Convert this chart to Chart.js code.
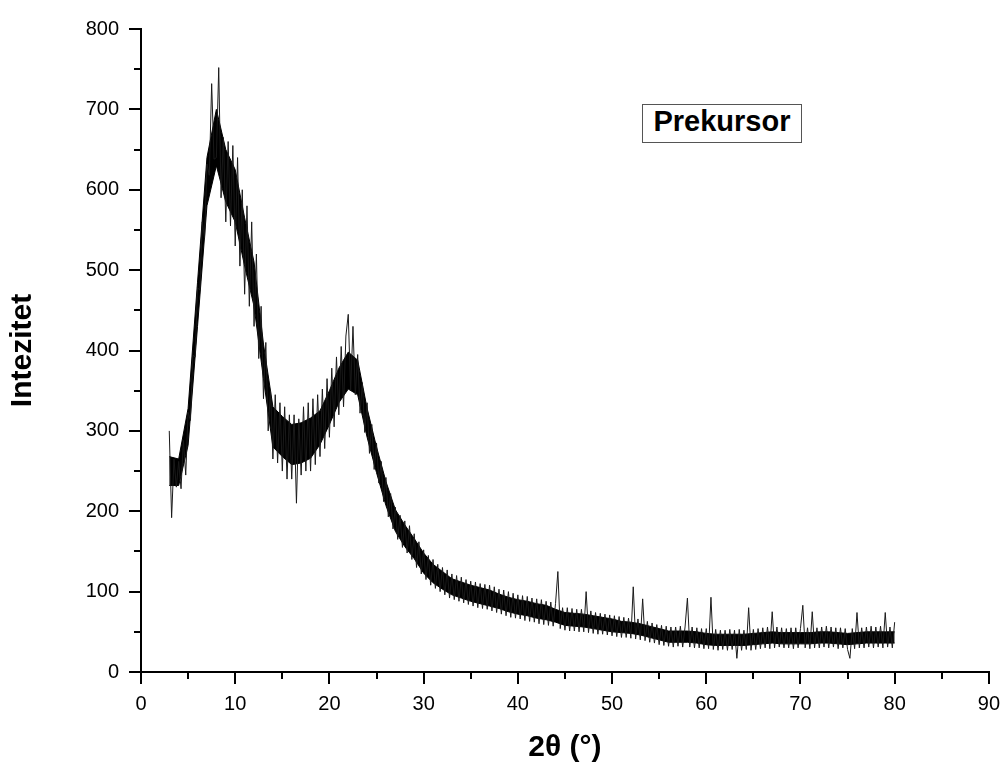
<!DOCTYPE html>
<html>
<head>
<meta charset="utf-8">
<title>Prekursor XRD</title>
<script src="https://cdn.jsdelivr.net/npm/chart.js@4/dist/chart.umd.min.js"></script>
<style>
  body { margin: 0; background: #fff; }
  #wrap { position: relative; width: 1008px; height: 776px; }
  #legend {
    position: absolute; left: 642px; top: 104px;
    width: 158px; height: 37px; line-height: 37px;
    border: 1px solid #555; background: #fff;
    font: bold 29px "Liberation Sans", Arial, sans-serif;
    text-align: center;
  }
</style>
</head>
<body>
<div id="wrap">
  <canvas id="xrd" width="1008" height="776"></canvas>
  <div id="legend">Prekursor</div>
</div>
<script>
// raw scan, sampled every 0.25 deg starting at 3 deg (one row = one degree)
const startAngle = 3;
const angleStep = 0.25;
const intensity = [
  300, 192, 265, 230,   // 3
  262, 228, 288, 245,   // 4
  323, 313, 394, 392,   // 5
  478, 475, 560, 540,   // 6
  632, 618, 732, 638,   // 7
  640, 752, 590, 665,   // 8
  560, 660, 555, 655,   // 9
  530, 640, 505, 600,   // 10
  470, 580, 455, 560,   // 11
  430, 520, 390, 455,   // 12
  340, 410, 300, 350,   // 13
  265, 345, 260, 335,   // 14
  250, 330, 240, 320,   // 15
  240, 320, 210, 315,   // 16
  245, 330, 250, 335,   // 17
  250, 340, 258, 345,   // 18
  268, 352, 278, 365,   // 19
  292, 378, 305, 392,   // 20
  320, 405, 330, 418,   // 21
  445, 350, 430, 345,   // 22
  395, 322, 360, 298,   // 23
  335, 272, 308, 252,   // 24
  285, 235, 262, 212,   // 25
  242, 193, 222, 178,   // 26
  205, 165, 195, 155,   // 27
  188, 148, 182, 140,   // 28
  172, 130, 162, 122,   // 29
  152, 115, 145, 108,   // 30
  140, 104, 134, 100,   // 31
  130,  96, 127,  92,   // 32
  122,  90, 120,  88,   // 33
  118,  86, 115,  84,   // 34
  113,  82, 112,  80,   // 35
  110,  79, 109,  78,   // 36
  108,  76, 106,  74,   // 37
  103,  72, 102,  70,   // 38
  100,  68,  98,  67,   // 39
   96,  66,  95,  64,   // 40
   94,  63,  92,  62,   // 41
   91,  60,  90,  59,   // 42
   88,  58,  87,  57,   // 43
   85, 125,  54,  80,   // 44
   52,  80,  51,  79,   // 45
   51,  78,  50,  78,   // 46
   50, 100,  49,  76,   // 47
   48,  74,  47,  73,   // 48
   47,  72,  46,  71,   // 49
   45,  70,  44,  69,   // 50
   43,  68,  43,  67,   // 51
   42, 106,  41,  66,   // 52
   40,  91,  39,  63,   // 53
   37,  61,  36,  59,   // 54
   34,  58,  33,  57,   // 55
   32,  56,  31,  56,   // 56
   32,  57,  31,  56,   // 57
   92,  31,  56,  30,   // 58
   55,  30,  54,  29,   // 59
   54,  29,  93,  28,   // 60
   53,  27,  52,  28,   // 61
   52,  27,  53,  28,   // 62
   52,  17,  53,  27,   // 63
   52,  28,  80,  27,   // 64
   53,  28,  54,  29,   // 65
   55,  30,  56,  29,   // 66
   75,  30,  56,  31,   // 67
   55,  30,  54,  30,   // 68
   55,  29,  55,  30,   // 69
   54,  83,  30,  55,   // 70
   29,  75,  30,  55,   // 71
   30,  56,  31,  57,   // 72
   30,  56,  31,  55,   // 73
   29,  55,  30,  54,   // 74
   28,  17,  54,  29,   // 75
   74,  30,  55,  30,   // 76
   56,  31,  57,  30,   // 77
   56,  31,  57,  30,   // 78
   74,  31,  56,  30,   // 79
   62                   // 80
];
const twoTheta = intensity.map((v, i) => startAngle + i * angleStep);

// dense dark core of the noise band, read every 1 deg from 3 to 80
const coreAngle = [
   3,  4,  5,  6,  7,  8,  9, 10, 11, 12, 13, 14, 15, 16, 17, 18, 19, 20, 21, 22,
  23, 24, 25, 26, 27, 28, 29, 30, 31, 32, 33, 34, 35, 36, 37, 38, 39, 40, 41, 42,
  43, 44, 45, 46, 47, 48, 49, 50, 51, 52, 53, 54, 55, 56, 57, 58, 59, 60, 61, 62,
  63, 64, 65, 66, 67, 68, 69, 70, 71, 72, 73, 74, 75, 76, 77, 78, 79, 80
];
const coreLow = [
  232, 232, 282, 430, 580, 630, 585, 560, 505, 455, 365, 280, 268, 258, 260, 266, 283, 308, 335, 352,
  345, 292, 248, 207, 175, 156, 141, 123, 111, 103,  96,  92,  88,  85,  82,  79,  75,  72,  70,  67,
   65,  62,  58,  57,  56,  54,  52,  50,  49,  48,  46,  43,  40,  37,  37,  37,  36,  34,  33,  33,
   33,  33,  34,  35,  36,  35,  35,  35,  35,  36,  36,  35,  34,  35,  36,  36,  36,  36
];
const coreHigh = [
  268, 265, 328, 485, 640, 700, 650, 625, 565, 510, 408, 330, 318, 308, 310, 316, 325, 350, 378, 398,
  388, 328, 280, 237, 202, 183, 166, 148, 134, 125, 116, 112, 108, 105, 102,  97,  93,  90,  88,  85,
   83,  78,  74,  73,  72,  70,  68,  66,  63,  62,  60,  57,  54,  51,  51,  51,  50,  48,  47,  47,
   47,  47,  48,  49,  50,  49,  49,  49,  49,  50,  50,  49,  48,  49,  50,  50,  50,  50
];

const xMajor = [0, 10, 20, 30, 40, 50, 60, 70, 80, 90];
const xMinor = [5, 15, 25, 35, 45, 55, 65, 75, 85];
const yMajor = [0, 100, 200, 300, 400, 500, 600, 700, 800];
const yMinor = [50, 150, 250, 350, 450, 550, 650, 750];

const font = '"Liberation Sans", Arial, sans-serif';

// short ticks between the labelled ones
const minorTicks = {
  id: 'minorTicks',
  afterDraw(chart) {
    const ctx = chart.ctx;
    const xs = chart.scales.x, ys = chart.scales.y;
    ctx.save();
    ctx.strokeStyle = '#000';
    ctx.lineWidth = 2;
    ctx.beginPath();
    xMinor.forEach(v => {
      const px = Math.round(xs.getPixelForValue(v));
      ctx.moveTo(px, xs.top);
      ctx.lineTo(px, xs.top + 7);
    });
    yMinor.forEach(v => {
      const py = Math.round(ys.getPixelForValue(v));
      ctx.moveTo(ys.right, py);
      ctx.lineTo(ys.right - 7, py);
    });
    ctx.stroke();
    ctx.restore();
  }
};

const chart = new Chart(document.getElementById('xrd'), {
  type: 'line',
  data: {
    datasets: [
      {
        data: twoTheta.map((x, i) => ({ x: x, y: intensity[i] })),
        borderColor: '#1a1a1a',
        borderWidth: 1,
        pointRadius: 0,
        tension: 0,
        fill: false
      },
      {
        data: coreAngle.map((x, i) => ({ x: x, y: coreLow[i] })),
        borderColor: '#000',
        borderWidth: 1,
        pointRadius: 0,
        fill: false
      },
      {
        data: coreAngle.map((x, i) => ({ x: x, y: coreHigh[i] })),
        borderColor: '#000',
        borderWidth: 1,
        backgroundColor: '#000',
        pointRadius: 0,
        fill: '-1'
      }
    ]
  },
  options: {
    responsive: false,
    animation: false,
    layout: { padding: { left: 0, top: 29, right: 18, bottom: 0 } },
    plugins: { legend: { display: false }, tooltip: { enabled: false } },
    scales: {
      x: {
        type: 'linear',
        min: 0, max: 90,
        afterFit: s => { s.height = 104; },
        afterBuildTicks: s => { s.ticks = xMajor.map(v => ({ value: v })); },
        border: { display: true, color: '#000', width: 2 },
        grid: { drawOnChartArea: false, color: '#000', lineWidth: 2, tickLength: 12 },
        ticks: { color: '#000', padding: 8, maxRotation: 0, font: { family: font, size: 20 } },
        title: {
          display: true, text: '2θ (°)', color: '#000',
          font: { family: font, size: 30, weight: 'bold' },
          padding: { top: 0, bottom: 10 }
        }
      },
      y: {
        min: 0, max: 800,
        afterFit: s => { s.width = 141; },
        afterBuildTicks: s => { s.ticks = yMajor.map(v => ({ value: v })); },
        border: { display: true, color: '#000', width: 2 },
        grid: { drawOnChartArea: false, color: '#000', lineWidth: 2, tickLength: 12 },
        ticks: { color: '#000', padding: 10, font: { family: font, size: 20 } },
        title: {
          display: true, text: 'Intezitet', color: '#000',
          font: { family: font, size: 30, weight: 'bold' },
          padding: { top: 5, bottom: 0 }
        }
      }
    }
  },
  plugins: [minorTicks]
});
</script>
</body>
</html>
